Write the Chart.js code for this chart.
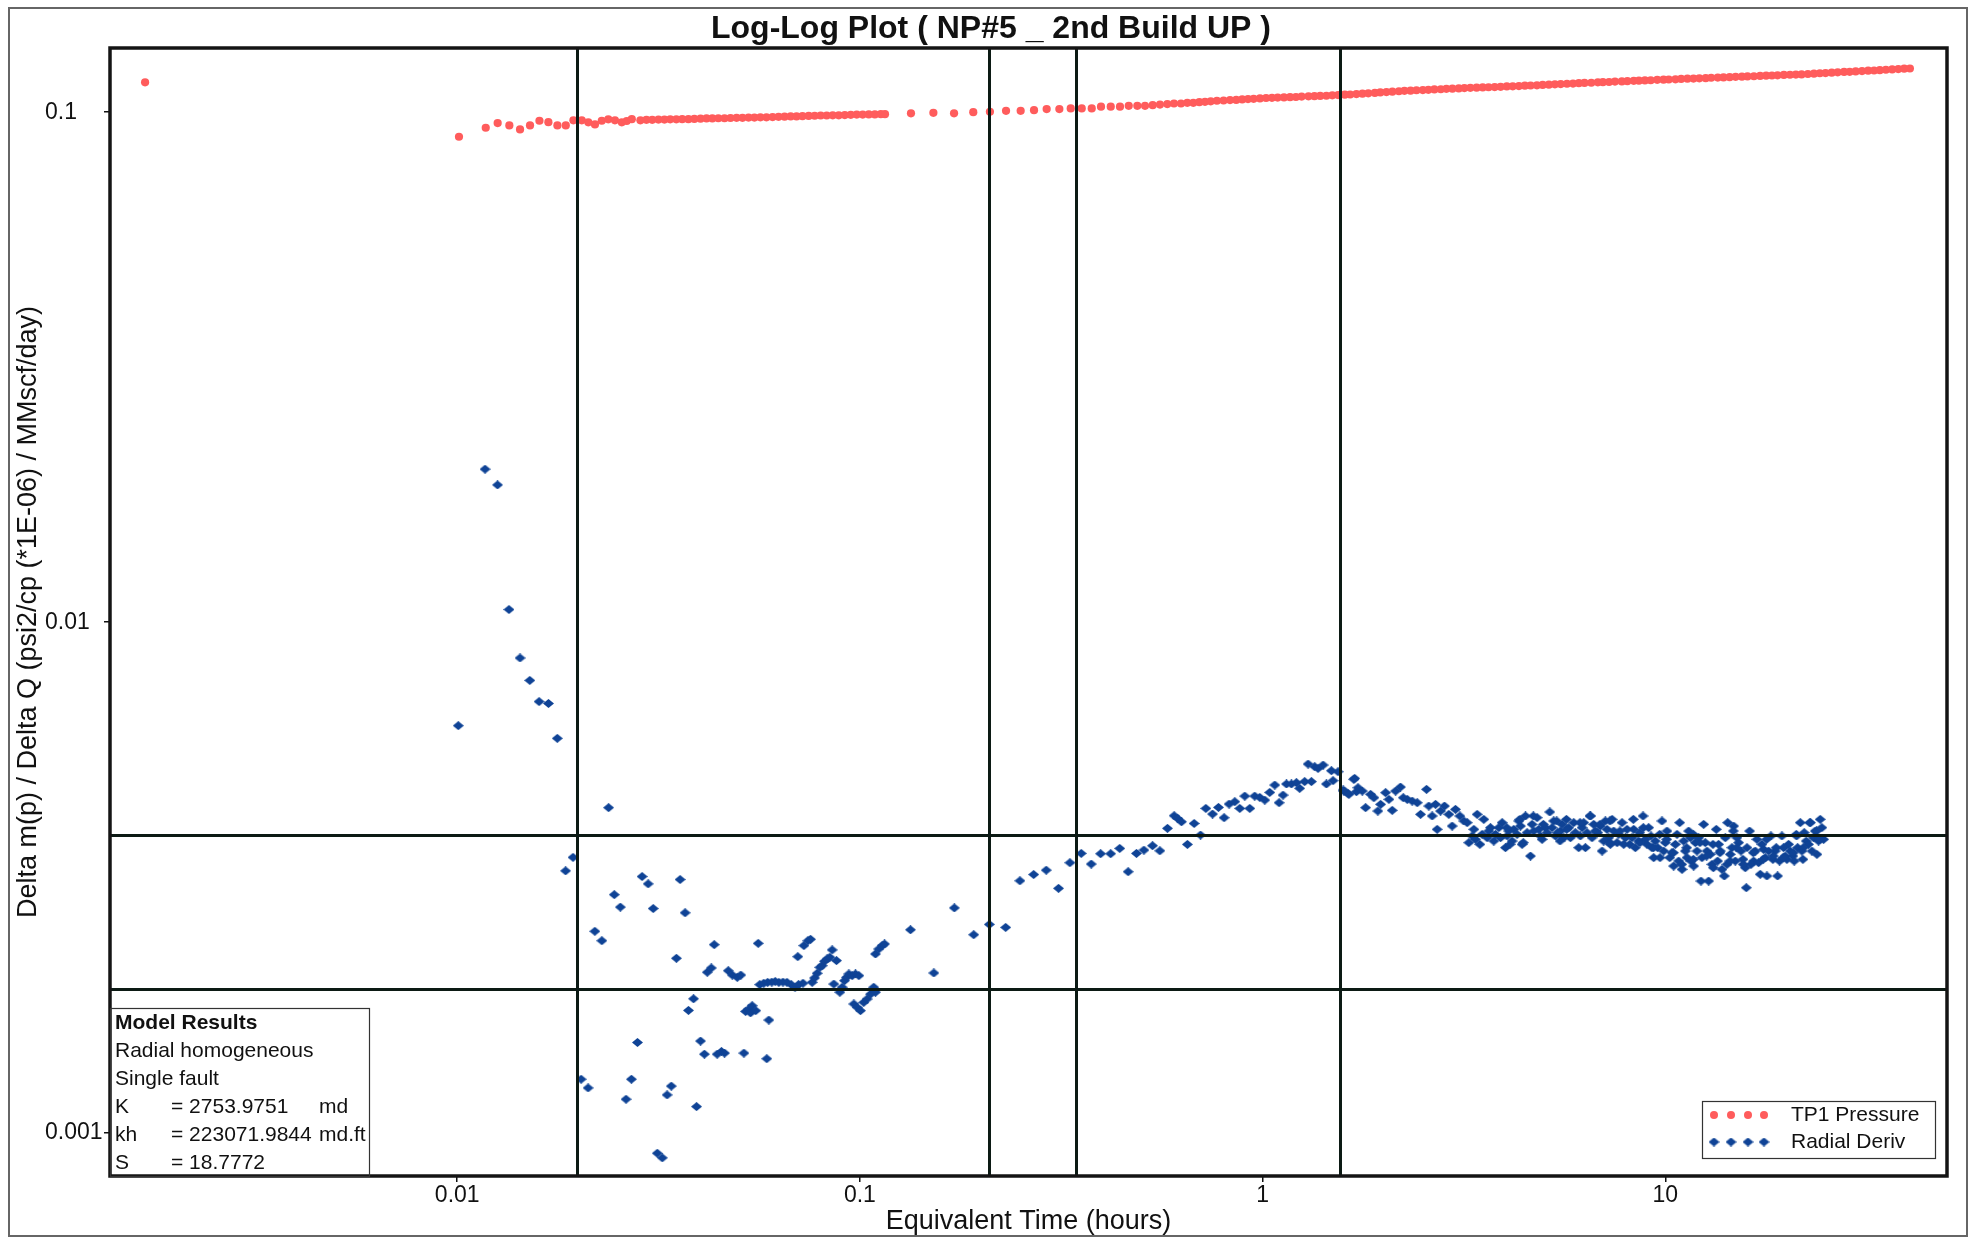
<!DOCTYPE html>
<html lang="en">
<head>
<meta charset="UTF-8">
<title>Log-Log Plot ( NP#5 _ 2nd Build UP )</title>
<script src="https://cdn.jsdelivr.net/npm/chart.js"></script>
<style>
  html, body { margin: 0; padding: 0; background: #fff; }
  canvas { display: block; }
</style>
</head>
<body>
<canvas id="loglog" width="1975" height="1239"></canvas>
<script>
// values (hours, psi2/cp per MMscf/day *1E-06)
const pressureTimeEarly = [0.001678, 0.0101, 0.01177, 0.0126, 0.01347, 0.01432, 0.01516, 0.016, 0.01684, 0.01773,
  0.0186, 0.01943, 0.02038, 0.02116, 0.02198, 0.02285, 0.02372, 0.02464, 0.02562, 0.02636, 0.02713,
  0.0285, 0.0295, 0.0305, 0.0316, 0.0327, 0.0338, 0.035, 0.0362, 0.0375, 0.0388,
  0.0402, 0.0416, 0.043, 0.0445, 0.0461, 0.0477, 0.0494, 0.0511, 0.0529, 0.0547,
  0.0566, 0.0586, 0.0607, 0.0628, 0.065, 0.0673, 0.0696, 0.072, 0.0746, 0.0772,
  0.0799, 0.0827, 0.0856, 0.0886, 0.0917, 0.0949, 0.0982, 0.1016, 0.1052, 0.1089, 0.1127, 0.1154];
const pressureValueEarly = [0.1144, 0.0895, 0.0932, 0.0952, 0.0942, 0.0925, 0.0942, 0.0962, 0.0956, 0.0942,
  0.0942, 0.0964, 0.0964, 0.0955, 0.0946, 0.0962, 0.0968, 0.0964, 0.0955, 0.0961, 0.0969,
  0.0964, 0.0966, 0.0966, 0.0967, 0.0967, 0.0968, 0.0968, 0.0969, 0.0969, 0.0970,
  0.0971, 0.0972, 0.0972, 0.0973, 0.0973, 0.0974, 0.0975, 0.0975, 0.0976, 0.0976,
  0.0977, 0.0977, 0.0978, 0.0979, 0.0980, 0.0981, 0.0981, 0.0982, 0.0983, 0.0984,
  0.0985, 0.0985, 0.0986, 0.0986, 0.0987, 0.0988, 0.0989, 0.0989, 0.0990, 0.0990, 0.0991, 0.0991];

const pressureTimeMid = [0.1339, 0.1522, 0.1713, 0.1912, 0.2103, 0.2306, 0.2507, 0.2706, 0.2909, 0.3128,
  0.3338, 0.3555, 0.3764, 0.3969, 0.4196, 0.4424, 0.4651, 0.4885, 0.5105, 0.5334,
  0.5561, 0.5799, 0.6025, 0.6271, 0.6501, 0.6729, 0.6965, 0.7194, 0.7433];
const pressureValueMid = [0.0995, 0.0997, 0.0995, 0.1000, 0.1002, 0.1006, 0.1006, 0.1009, 0.1014, 0.1014,
  0.1017, 0.1017, 0.1017, 0.1025, 0.1025, 0.1025, 0.1029, 0.1029, 0.1029, 0.1032,
  0.1035, 0.1037, 0.1040, 0.1040, 0.1043, 0.1043, 0.1046, 0.1048, 0.1050];

const pressureTimeLate = [0.77, 0.80, 0.83, 0.86, 0.89, 0.92, 0.95, 0.985, 1.02, 1.055,
  1.09, 1.13, 1.17, 1.21, 1.25, 1.3, 1.345, 1.39, 1.44, 1.49,
  1.54, 1.6, 1.65, 1.71, 1.77, 1.83, 1.9, 1.96, 2.03, 2.1,
  2.18, 2.25, 2.33, 2.41, 2.5, 2.58, 2.67, 2.77, 2.86, 2.96,
  3.07, 3.17, 3.28, 3.4, 3.52, 3.64, 3.77, 3.9, 4.04, 4.18,
  4.33, 4.48, 4.63, 4.8, 4.96, 5.14, 5.32, 5.5, 5.7, 5.9,
  6.1, 6.3, 6.55, 6.8, 7.0, 7.25, 7.5, 7.8, 8.05, 8.35,
  8.6, 8.9, 9.2, 9.55, 9.9, 10.2, 10.6, 10.95, 11.35, 11.75,
  12.15, 12.6, 13.0, 13.5, 13.95, 14.45, 14.95, 15.5, 16.0, 16.6,
  17.2, 17.8, 18.4, 19.0, 19.7, 20.4, 21.1, 21.8, 22.6, 23.4,
  24.2, 25.0, 25.9, 26.8, 27.8, 28.7, 29.7, 30.8, 31.9, 33.0,
  34.1, 35.3, 36.6, 37.9, 39.2, 40.5];
const pressureValueLate = [0.1053, 0.1054, 0.1056, 0.1057, 0.1059, 0.1061, 0.1062, 0.1064, 0.1066, 0.1067,
  0.1068, 0.1069, 0.1070, 0.1071, 0.1073, 0.1074, 0.1075, 0.1076, 0.1077, 0.1079,
  0.1080, 0.1082, 0.1083, 0.1085, 0.1087, 0.1089, 0.1091, 0.1093, 0.1095, 0.1097,
  0.1099, 0.1101, 0.1102, 0.1104, 0.1105, 0.1106, 0.1108, 0.1109, 0.1111, 0.1112,
  0.1113, 0.1115, 0.1116, 0.1117, 0.1118, 0.1119, 0.1120, 0.1121, 0.1123, 0.1124,
  0.1125, 0.1127, 0.1128, 0.1129, 0.1131, 0.1132, 0.1134, 0.1135, 0.1137, 0.1138,
  0.1140, 0.1141, 0.1142, 0.1144, 0.1145, 0.1146, 0.1148, 0.1149, 0.1150, 0.1152,
  0.1153, 0.1154, 0.1155, 0.1157, 0.1158, 0.1159, 0.1160, 0.1162, 0.1163, 0.1164,
  0.1165, 0.1166, 0.1168, 0.1169, 0.1170, 0.1171, 0.1173, 0.1174, 0.1175, 0.1176,
  0.1178, 0.1179, 0.1180, 0.1181, 0.1183, 0.1184, 0.1185, 0.1186, 0.1188, 0.1190,
  0.1192, 0.1193, 0.1195, 0.1197, 0.1199, 0.1200, 0.1202, 0.1204, 0.1206, 0.1207,
  0.1209, 0.1211, 0.1213, 0.1215, 0.1217, 0.1218];

const derivTimeEarly = [0.01006, 0.01172, 0.01259, 0.01344, 0.01432, 0.01514, 0.01597, 0.01685, 0.01772, 0.01858,
  0.01939, 0.0203, 0.02113, 0.02196, 0.02286, 0.02376, 0.02455, 0.02541, 0.02625, 0.02707,
  0.02803, 0.02878, 0.02979, 0.03067, 0.03139, 0.0323, 0.0332, 0.034, 0.03501, 0.03576,
  0.0368, 0.03752, 0.03862, 0.03928, 0.0402, 0.0411, 0.04177, 0.04275, 0.04347, 0.0442,
  0.0453, 0.0461, 0.0471, 0.0482, 0.0496, 0.0506, 0.0515, 0.052, 0.053, 0.0535,
  0.054, 0.0551, 0.05591, 0.0564, 0.0577, 0.0587, 0.059, 0.0594, 0.0604, 0.0616,
  0.0629, 0.0644, 0.0659, 0.0675, 0.069, 0.0701, 0.0704, 0.0722, 0.0726, 0.0743,
  0.0754, 0.07611, 0.07713, 0.07831, 0.07951, 0.08058, 0.08166, 0.08291, 0.08419, 0.08532,
  0.08614, 0.08746, 0.08915, 0.09035, 0.09157, 0.09263, 0.09387, 0.09566, 0.09658, 0.0975,
  0.09843, 0.09938, 0.1003, 0.1022, 0.1042, 0.1062, 0.1082, 0.1093, 0.1093, 0.1114,
  0.1136, 0.1151];
const derivValueEarly = [0.00627, 0.01996, 0.01859, 0.01059, 0.00851, 0.00769, 0.00699, 0.00693, 0.00592, 0.003255,
  0.00346, 0.001271, 0.001222, 0.002478, 0.002375, 0.00433, 0.002924, 0.002764, 0.001161, 0.001271,
  0.0015, 0.003173, 0.00307, 0.002746, 0.00091, 0.000891, 0.001184, 0.001232, 0.002194, 0.00313,
  0.002694, 0.001734, 0.001827, 0.001123, 0.00151, 0.001423, 0.00206, 0.0021, 0.002333, 0.001423,
  0.00144, 0.00143, 0.002074, 0.002034, 0.002013, 0.002034, 0.00143, 0.001726, 0.001745, 0.001715,
  0.001771, 0.001732, 0.002347, 0.001948, 0.00196, 0.001394, 0.001968, 0.00166, 0.00197, 0.001975,
  0.001968, 0.00197, 0.001968, 0.001948, 0.001925, 0.00221, 0.001948, 0.00196, 0.002323, 0.002375,
  0.00239, 0.001968, 0.002007, 0.00205, 0.002106, 0.002122, 0.002164, 0.002187, 0.002204, 0.002278,
  0.001953, 0.002171, 0.001882, 0.001925, 0.001983, 0.002013, 0.002044, 0.002028, 0.001785, 0.002044,
  0.001758, 0.002028, 0.001732, 0.001798, 0.001825, 0.001866, 0.001925, 0.001882, 0.002237, 0.002288,
  0.002322, 0.00234];

const derivTimeRise = [0.1335, 0.1526, 0.1716, 0.1917, 0.2096, 0.2301, 0.2496, 0.27, 0.2902, 0.3113,
  0.3322, 0.3544, 0.3753, 0.3959, 0.4194, 0.4418, 0.4636, 0.4862, 0.5072, 0.5328,
  0.5557, 0.5805, 0.6031, 0.6147, 0.6287, 0.6506, 0.6761, 0.7011, 0.7228, 0.7509,
  0.777, 0.8024, 0.8256, 0.853, 0.8776, 0.9031, 0.9292, 0.956, 0.984, 1.0125,
  1.0416, 1.072, 1.099, 1.124, 1.146, 1.179, 1.213, 1.236, 1.272, 1.297,
  1.322, 1.347, 1.373, 1.413, 1.44, 1.482, 1.496, 1.539, 1.585, 1.63,
  1.693, 1.71];
const derivValueRise = [0.002495, 0.002053, 0.002754, 0.00244, 0.002556, 0.002522, 0.003113, 0.003202, 0.003266, 0.003008,
  0.003377, 0.003522, 0.003357, 0.003517, 0.003517, 0.003602, 0.003243, 0.003522, 0.003575, 0.003646,
  0.003564, 0.003944, 0.004175, 0.004125, 0.004062, 0.003668, 0.004032, 0.003827, 0.004315, 0.004207,
  0.004335, 0.004138, 0.004401, 0.004447, 0.004315, 0.004562, 0.004315, 0.004562, 0.004535, 0.00448,
  0.004638, 0.004796, 0.004427, 0.004582, 0.004818, 0.004818, 0.004847, 0.004724, 0.00487, 0.005272,
  0.00487, 0.005209, 0.00517, 0.005248, 0.004818, 0.005116, 0.004891, 0.005093, 0.00469, 0.004617,
  0.004943, 0.004653];

const derivTimeLate = [1.592, 1.638, 1.685, 1.725, 1.768, 1.802, 1.854, 1.890, 1.933, 1.963,
  2.020, 2.059, 2.098, 2.139, 2.200, 2.235, 2.286, 2.352, 2.421, 2.467,
  2.553, 2.587, 2.637, 2.688, 2.713, 2.766, 2.829, 2.901, 2.956, 3.013,
  3.089, 3.160, 3.221, 3.252, 3.346, 3.410, 3.463, 3.542, 3.611, 3.645,
  3.751, 3.859, 3.934, 4.009, 4.087, 4.205, 4.327, 4.410, 4.495, 4.625,
  4.714, 4.805, 4.944, 5.039, 5.165, 5.284, 5.406, 5.543, 5.681, 5.813,
  5.924, 6.095, 6.213, 6.333, 6.516, 6.642, 6.795, 6.966, 7.099, 7.236,
  7.376, 7.590, 7.809, 7.960, 8.159, 8.347, 8.588, 8.804, 9.007, 9.215,
  9.358, 9.574, 9.813, 10.003, 10.255, 10.491, 10.694, 10.857, 11.003, 11.216,
  11.43, 11.583, 11.874, 12.101, 12.264, 12.452, 12.692, 12.813, 13.06, 13.385,
  13.565, 13.827, 14.013, 14.283, 14.502, 14.782, 15.063, 15.414, 15.798, 15.89,
  16.196, 16.568, 16.889, 17.211, 17.544, 17.882, 18.295, 18.75, 19.003, 19.481,
  19.853, 20.237, 20.746, 21.146, 21.635, 21.966, 22.388, 22.906, 23.348, 23.793,
  24.252, 24.722];
const derivValueLate = [0.004668, 0.004598, 0.00492, 0.004738, 0.004668, 0.00433, 0.004598, 0.004529, 0.004265, 0.004395,
  0.004633, 0.004495, 0.004278, 0.004668, 0.004752, 0.004529, 0.004495, 0.004462, 0.004428, 0.004201,
  0.004703, 0.004362, 0.00417, 0.004395, 0.003926, 0.004265, 0.004362, 0.004201, 0.003985, 0.004297,
  0.00417, 0.004077, 0.004046, 0.003697, 0.003926, 0.004201, 0.003669, 0.004107, 0.003781, 0.003896,
  0.003724, 0.003956, 0.004046, 0.003615, 0.003896, 0.003926, 0.004077, 0.003669, 0.00417, 0.003481,
  0.003896, 0.004139, 0.003753, 0.003956, 0.004246, 0.004077, 0.003868, 0.004016, 0.004107, 0.003781,
  0.004046, 0.003615, 0.003956, 0.003615, 0.00417, 0.004016, 0.003868, 0.00356, 0.004077, 0.003781,
  0.004107, 0.003697, 0.004046, 0.003781, 0.003669, 0.003926, 0.003724, 0.00417, 0.003669, 0.00381,
  0.003455, 0.003615, 0.004077, 0.003697, 0.003455, 0.003327, 0.003839, 0.004046, 0.003278, 0.00356,
  0.003896, 0.003403, 0.003697, 0.003781, 0.003109, 0.004016, 0.00356, 0.003109, 0.003352, 0.003926,
  0.003669, 0.003278, 0.003181, 0.004046, 0.003507, 0.003985, 0.003781, 0.00356, 0.003302, 0.003017,
  0.003896, 0.003403, 0.003753, 0.003205, 0.003587, 0.003181, 0.00381, 0.00356, 0.003181, 0.00381,
  0.003481, 0.003669, 0.003481, 0.003839, 0.004046, 0.003429, 0.003724, 0.004046, 0.003781, 0.003507,
  0.004107, 0.003753];

const derivTimeLate2 = [3.314, 3.378, 3.509, 3.680, 3.787, 3.896, 4.047, 4.165, 4.285, 4.368,
  4.538, 4.669, 4.851, 4.898, 5.087, 5.234, 5.334, 5.488, 5.596, 5.757,
  5.980, 6.153, 6.272, 6.393, 6.578, 6.705, 6.900, 7.032, 7.166, 7.305,
  7.446, 7.662, 7.883, 8.036, 8.268, 8.426, 8.637, 8.921, 9.093, 9.268,
  9.447, 9.683, 9.906, 10.098, 10.391, 10.591, 10.796, 11.108, 11.323, 11.539,
  11.762, 11.987, 12.334, 12.570, 12.935, 13.134, 13.487, 13.694, 14.093, 14.229,
  14.640, 14.922, 15.206, 15.590, 15.950, 16.319, 16.725, 17.049, 17.375, 17.711,
  18.052, 18.504, 18.857, 19.220, 19.666, 20.042, 20.429, 20.904, 21.307, 21.841,
  22.133, 22.686, 23.124, 23.570, 24.019, 24.482];
const derivValueLate2 = [0.00381, 0.003753, 0.003839, 0.003956, 0.003839, 0.003781, 0.00381, 0.003724, 0.003839, 0.003985,
  0.003868, 0.004016, 0.003926, 0.00381, 0.003868, 0.003956, 0.00381, 0.003896, 0.003781, 0.003956,
  0.003868, 0.00381, 0.004046, 0.003868, 0.003781, 0.003896, 0.003985, 0.003724, 0.003926, 0.003669,
  0.003896, 0.003839, 0.003669, 0.003926, 0.003781, 0.003615, 0.003868, 0.003753, 0.003956, 0.003615,
  0.003724, 0.003839, 0.00356, 0.003896, 0.003534, 0.003669, 0.003403, 0.003724, 0.003455, 0.003781,
  0.003327, 0.00356, 0.003455, 0.003697, 0.003507, 0.003669, 0.003403, 0.00356, 0.003781, 0.003352,
  0.003615, 0.003403, 0.003697, 0.003429, 0.003615, 0.003352, 0.00356, 0.003378, 0.003669, 0.003455,
  0.00356, 0.003429, 0.003615, 0.003403, 0.003615, 0.003429, 0.00356, 0.003403, 0.003615, 0.00356,
  0.003868, 0.003669, 0.00356, 0.003896, 0.003724, 0.003956];

const derivTimeLate3 = [4.037, 4.356, 4.703, 4.979, 5.374, 5.690, 6.141, 6.502, 6.884, 7.289,
  7.718, 8.330, 8.820, 9.339, 9.702, 10.079, 10.47, 10.981, 11.30, 11.739,
  12.195, 12.668, 13.160, 13.671, 14.475, 15.036, 15.619, 16.539, 17.512, 18.543,
  19.633, 20.789, 22.012, 22.868, 23.755, 24.212, 4.115, 4.440, 5.477, 7.289,
  8.653, 11.739, 14.753, 17.848, 21.189];
const derivValueLate3 = [0.003956, 0.004107, 0.00417, 0.004016, 0.004077, 0.003926, 0.004046, 0.00417, 0.004016, 0.004077,
  0.003897, 0.004107, 0.003956, 0.003614, 0.003455, 0.003753, 0.003533, 0.003352, 0.003614, 0.003429,
  0.003697, 0.003481, 0.003302, 0.003533, 0.003403, 0.003614, 0.003352, 0.003533, 0.003429, 0.003481,
  0.003455, 0.003533, 0.003614, 0.004046, 0.003897, 0.003753, 0.003669, 0.003697, 0.003725, 0.003697,
  0.003697, 0.003839, 0.003897, 0.003753, 0.00381];

// flow-regime marker lines
const markerTimes = [0.01984, 0.2096, 0.344, 1.556];
const markerLevels = [0.003827, 0.001912];

const xTickValues = [0.01, 0.1, 1, 10];
const xTickLabels = ['0.01', '0.1', '1', '10'];
const yTickValues = [0.001, 0.01, 0.1];
const yTickLabels = ['0.001', '0.01', '0.1'];
const xRange = [0.001373, 50.07];
const yRange = [0.000821, 0.1336];

const modelResults = [
  ['Model Results'],
  ['Radial homogeneous'],
  ['Single fault'],
  ['K', '= 2753.9751', 'md'],
  ['kh', '= 223071.9844', 'md.ft'],
  ['S', '= 18.7772']
];

const FONT = '"Liberation Sans", Arial, Helvetica, sans-serif';
const RED = '#ff5c5c';
const BLUE = '#0f4396';
const INK = '#111';

function zip(xs, ys) {
  const n = Math.min(xs.length, ys.length);
  const out = [];
  for (let i = 0; i < n; i++) out.push({x: xs[i], y: ys[i]});
  return out;
}

// squashed diamond marker like the original plot
function diamond(w, h, color) {
  const c = document.createElement('canvas');
  c.width = w; c.height = h;
  const g = c.getContext('2d');
  g.fillStyle = color;
  g.beginPath();
  g.moveTo(w / 2, 0); g.lineTo(w, h / 2); g.lineTo(w / 2, h); g.lineTo(0, h / 2);
  g.closePath();
  g.fill();
  return c;
}
const diamondImg = diamond(11, 9, BLUE);

const pressurePoints = zip(pressureTimeEarly, pressureValueEarly)
  .concat(zip(pressureTimeMid, pressureValueMid))
  .concat(zip(pressureTimeLate, pressureValueLate));
const derivPoints = zip(derivTimeEarly, derivValueEarly)
  .concat(zip(derivTimeRise, derivValueRise))
  .concat(zip(derivTimeLate, derivValueLate))
  .concat(zip(derivTimeLate2, derivValueLate2))
  .concat(zip(derivTimeLate3, derivValueLate3));

const decor = {
  id: 'decor',
  afterDatasetsDraw(chart) {
    const {ctx, chartArea: a, scales: {x, y}} = chart;
    ctx.save();
    // marker lines, on top of the points
    ctx.strokeStyle = '#0c1a14';
    ctx.lineWidth = 3;
    markerTimes.forEach(t => {
      const px = Math.round(x.getPixelForValue(t)) + 0.5;
      ctx.beginPath(); ctx.moveTo(px, a.top); ctx.lineTo(px, a.bottom); ctx.stroke();
    });
    markerLevels.forEach(v => {
      const py = Math.round(y.getPixelForValue(v)) + 0.5;
      ctx.beginPath(); ctx.moveTo(a.left, py); ctx.lineTo(a.right, py); ctx.stroke();
    });
    // plot frame
    ctx.strokeStyle = '#141414';
    ctx.lineWidth = 3.5;
    ctx.strokeRect(a.left, a.top, a.right - a.left, a.bottom - a.top);

    // model results box
    const bx = a.left, by = 1008, bw = 259, bh = a.bottom - by;
    ctx.fillStyle = '#fff';
    ctx.fillRect(bx + 2, by, bw - 2, bh - 2);
    ctx.strokeStyle = '#333';
    ctx.lineWidth = 1.2;
    ctx.strokeRect(bx + 0.5, by + 0.5, bw, bh);
    ctx.fillStyle = INK;
    ctx.textBaseline = 'middle';
    ctx.textAlign = 'left';
    modelResults.forEach((row, i) => {
      const ty = by + 15 + i * 28;
      ctx.font = (i === 0 ? 'bold ' : '') + '21px ' + FONT;
      ctx.fillText(row[0], bx + 5, ty);
      if (row.length > 1) {
        ctx.fillText(row[1], bx + 61, ty);
        if (row[2]) ctx.fillText(row[2], bx + 209, ty);
      }
    });

    // legend box
    const lx = 1702, ly = 1101, lw = 233, lh = 57;
    ctx.fillStyle = '#fff';
    ctx.fillRect(lx, ly, lw, lh);
    ctx.strokeStyle = '#333';
    ctx.lineWidth = 1.2;
    ctx.strokeRect(lx + 0.5, ly + 0.5, lw, lh);
    const marks = [12, 29, 46, 62];
    marks.forEach(m => {
      ctx.fillStyle = RED;
      ctx.beginPath(); ctx.arc(lx + m, ly + 14, 4, 0, Math.PI * 2); ctx.fill();
      ctx.drawImage(diamondImg, lx + m - 5.5, ly + 41 - 4.5);
    });
    ctx.fillStyle = INK;
    ctx.font = '21px ' + FONT;
    ctx.fillText(chart.data.datasets[0].label, lx + 89, ly + 14);
    ctx.fillText(chart.data.datasets[1].label, lx + 89, ly + 41);
    ctx.restore();
  },
  afterDraw(chart) {
    const {ctx} = chart;
    ctx.save();
    ctx.fillStyle = INK;
    ctx.font = 'bold 32px ' + FONT;
    ctx.textAlign = 'center';
    ctx.textBaseline = 'middle';
    ctx.fillText('Log-Log Plot ( NP#5 _ 2nd Build UP )', 991, 29);
    // outer frame
    ctx.strokeStyle = '#666';
    ctx.lineWidth = 2;
    ctx.strokeRect(9, 8, 1958, 1228);
    ctx.restore();
  }
};

new Chart(document.getElementById('loglog').getContext('2d'), {
  type: 'scatter',
  data: {
    datasets: [
      {
        label: 'TP1 Pressure',
        data: pressurePoints,
        pointStyle: 'circle',
        pointRadius: 4.1,
        pointBorderWidth: 0,
        backgroundColor: RED,
        borderColor: RED
      },
      {
        label: 'Radial Deriv',
        data: derivPoints,
        pointStyle: diamondImg,
        pointRadius: 5,
        backgroundColor: BLUE,
        borderColor: BLUE
      }
    ]
  },
  options: {
    responsive: false,
    animation: false,
    devicePixelRatio: 1,
    layout: {padding: {left: 45, top: 48, right: 28, bottom: 0}},
    plugins: {
      legend: {display: false},
      tooltip: {enabled: false},
      title: {display: false}
    },
    scales: {
      x: {
        type: 'logarithmic',
        position: 'bottom',
        min: xRange[0],
        max: xRange[1],
        afterBuildTicks: s => { s.ticks = xTickValues.map(v => ({value: v})); },
        afterFit: s => { s.height = 63; },
        ticks: {
          callback: (v, i) => xTickLabels[i],
          font: {family: FONT, size: 23},
          color: INK,
          padding: 0,
          maxRotation: 0,
          autoSkip: false
        },
        grid: {drawOnChartArea: false, tickLength: 6, color: INK, lineWidth: 1.5},
        border: {display: false},
        title: {
          display: true,
          text: 'Equivalent Time (hours)',
          font: {family: FONT, size: 27},
          color: INK,
          padding: {top: 0, bottom: 1}
        }
      },
      y: {
        type: 'logarithmic',
        position: 'left',
        min: yRange[0],
        max: yRange[1],
        afterBuildTicks: s => { s.ticks = yTickValues.map(v => ({value: v})); },
        afterFit: s => { s.width = 65; },
        ticks: {
          callback: (v, i) => yTickLabels[i],
          font: {family: FONT, size: 23},
          color: INK,
          crossAlign: 'far',
          autoSkip: false
        },
        grid: {drawOnChartArea: false, tickLength: 6, color: INK, lineWidth: 1.5},
        border: {display: false},
        title: {
          display: true,
          text: 'Delta m(p) / Delta Q (psi2/cp (*1E-06) / MMscf/day)',
          font: {family: FONT, size: 27},
          color: INK,
          padding: {top: -33, bottom: 0}
        }
      }
    }
  },
  plugins: [decor]
});
</script>
</body>
</html>
